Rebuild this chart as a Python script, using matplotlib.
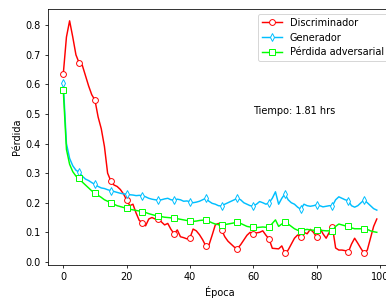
import matplotlib
matplotlib.use("Agg")
import matplotlib.pyplot as plt

# ── Data ─────────────────────────────────────────────────────────────────────
epocas = list(range(100))

discriminador = [
    0.635, 0.76, 0.815, 0.76, 0.70, 0.673, 0.665, 0.63, 0.595, 0.565,
    0.547, 0.49, 0.45, 0.39, 0.30, 0.274, 0.26, 0.255, 0.245, 0.23,
    0.21, 0.19, 0.195, 0.165, 0.14, 0.133, 0.122, 0.145, 0.15, 0.145,
    0.145, 0.135, 0.125, 0.13, 0.11, 0.095, 0.108, 0.085, 0.082, 0.078,
    0.081, 0.111, 0.105, 0.092, 0.075, 0.054, 0.057, 0.09, 0.125, 0.13,
    0.108, 0.085, 0.07, 0.06, 0.05, 0.045, 0.058, 0.074, 0.09, 0.10,
    0.095, 0.098, 0.10, 0.105, 0.09, 0.077, 0.046, 0.045, 0.044, 0.054,
    0.029, 0.04, 0.06, 0.08, 0.091, 0.085, 0.10, 0.095, 0.11, 0.10,
    0.083, 0.115, 0.095, 0.08, 0.10, 0.117, 0.047, 0.04, 0.04, 0.038,
    0.033, 0.06, 0.08, 0.063, 0.045, 0.029, 0.04, 0.08, 0.12, 0.145,
]

generador = [
    0.604, 0.40, 0.35, 0.325, 0.31, 0.303, 0.29, 0.28, 0.275, 0.268,
    0.262, 0.255, 0.25, 0.248, 0.244, 0.241, 0.238, 0.235, 0.232, 0.23,
    0.229, 0.227, 0.226, 0.224, 0.225, 0.224, 0.22, 0.215, 0.212, 0.21,
    0.209, 0.21, 0.213, 0.215, 0.21, 0.209, 0.212, 0.21, 0.205, 0.206,
    0.204, 0.20, 0.202, 0.205, 0.21, 0.215, 0.205, 0.198, 0.195, 0.19,
    0.189, 0.195, 0.20, 0.205, 0.21, 0.215, 0.21, 0.20, 0.195, 0.19,
    0.189, 0.195, 0.204, 0.20, 0.195, 0.20, 0.215, 0.237, 0.195, 0.215,
    0.23, 0.21, 0.20, 0.195, 0.185, 0.178, 0.195, 0.19, 0.188, 0.19,
    0.193, 0.19, 0.186, 0.188, 0.19, 0.19, 0.21, 0.22, 0.215, 0.21,
    0.207, 0.19, 0.185, 0.19, 0.20, 0.209, 0.20, 0.19, 0.18, 0.175,
]

adversarial = [
    0.581, 0.38, 0.33, 0.305, 0.29, 0.283, 0.27, 0.26, 0.25, 0.24,
    0.234, 0.225, 0.218, 0.21, 0.205, 0.20, 0.195, 0.19, 0.187, 0.184,
    0.181, 0.178, 0.176, 0.174, 0.172, 0.17, 0.167, 0.163, 0.16, 0.157,
    0.155, 0.153, 0.151, 0.15, 0.149, 0.147, 0.146, 0.144, 0.142, 0.14,
    0.138, 0.137, 0.138, 0.14, 0.141, 0.141, 0.137, 0.132, 0.128, 0.126,
    0.125, 0.126, 0.128, 0.13, 0.132, 0.134, 0.13, 0.125, 0.12, 0.118,
    0.117, 0.116, 0.117, 0.118, 0.117, 0.117, 0.13, 0.142, 0.12, 0.128,
    0.134, 0.128, 0.12, 0.112, 0.107, 0.105, 0.108, 0.11, 0.108, 0.107,
    0.108, 0.107, 0.106, 0.105, 0.105, 0.105, 0.12, 0.128, 0.125, 0.122,
    0.12, 0.115, 0.112, 0.112, 0.112, 0.112, 0.11, 0.105, 0.102, 0.10,
]

tiempo_hrs = 1.81

# ── Plot ─────────────────────────────────────────────────────────────────────
DPI = 70
fig = plt.figure(figsize=(386 / DPI, 300 / DPI), dpi=DPI)
ax = fig.add_axes([0.1233, 0.1167, 0.8935, 0.8533])

mk = dict(markevery=5, markersize=6, markerfacecolor="white", lw=1.5)
ax.plot(epocas, discriminador, color="red", marker="o", label="Discriminador", **mk)
ax.plot(epocas, generador, color="deepskyblue", marker="d", label="Generador", **mk)
ax.plot(epocas, adversarial, color="lime", marker="s", label="Pérdida adversarial", **mk)

ax.text(60, 0.5, f"Tiempo: {tiempo_hrs} hrs")

ax.set_xlim(-4.95, 103.95)
ax.set_ylim(-0.0105, 0.855)
ax.set_xlabel("Época")
ax.set_ylabel("Pérdida")
ax.legend(loc="upper right")

plt.savefig("out.png", dpi=DPI)
